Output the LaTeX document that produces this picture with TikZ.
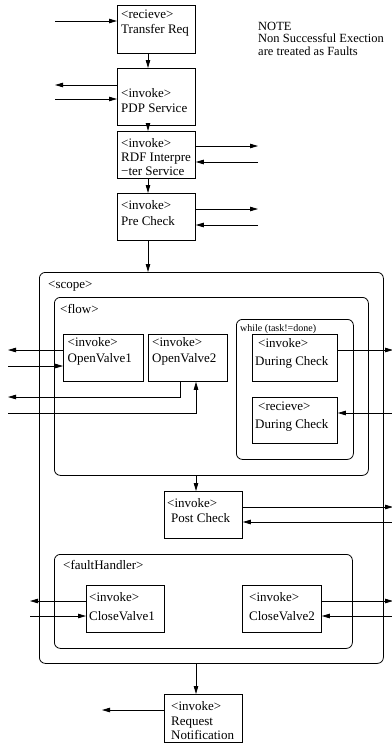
\documentclass[tikz,border=0pt]{standalone}
\usepackage{fontspec}
\setmainfont{Liberation Serif}
\usetikzlibrary{arrows.meta}
\begin{document}
\begin{tikzpicture}[x=1pt,y=-1pt,
  box/.style={draw, line width=0.8pt, anchor=north west, inner sep=0pt},
  grp/.style={draw, line width=0.8pt, anchor=north west, inner sep=0pt, rounded corners=6pt},
  txt/.style={anchor=base west, inner sep=0pt, font=\fontsize{13}{15}\selectfont},
  small/.style={anchor=base west, inner sep=0pt, font=\fontsize{10}{12}\selectfont},
  arr/.style={line width=0.8pt, -{Triangle[length=8pt,width=4.5pt]}}]
\path[use as bounding box] (0,0) rectangle (391,744);
% columns
\coordinate (colA) at (148,0);
\coordinate (colB) at (196,0);
\coordinate (colC) at (180,0);
% top boxes
\node[box, minimum width=78pt, minimum height=48pt] (tr) at (117,5) {};
\node[txt] (trA) at (121,18.5) {\textless recieve\textgreater};
\node[txt] (trB) at (121,33) {Transfer Req};
\node[box, minimum width=78pt, minimum height=57pt] (pdp) at (117,68) {};
\node[txt] (pdpA) at (121,97) {\textless invoke\textgreater};
\node[txt] (pdpB) at (121,112) {PDP Service};
\node[box, minimum width=78pt, minimum height=47pt] (rdf) at (117,131) {};
\node[txt] (rdfA) at (121,147) {\textless invoke\textgreater};
\node[txt] (rdfB) at (121,161.5) {RDF Interpre};
\node[txt] (rdfC) at (121,175) {−ter Service};
\node[box, minimum width=78pt, minimum height=47pt] (pre) at (117,193) {};
\node[txt] (preA) at (121,209) {\textless invoke\textgreater};
\node[txt] (preB) at (121,225) {Pre Check};
% note
\node[anchor=base west, inner sep=0pt, align=left, font=\fontsize{12.5}{12.3}\selectfont] (note) at (258,55) {NOTE\\Non Successful Exection\\are treated as Faults};
% groups
\node[grp, minimum width=344pt, minimum height=391pt] (scope) at (39,272) {};
\node[txt] (scopeL) at (48,288) {\textless scope\textgreater};
\node[grp, minimum width=314pt, minimum height=178pt] (flow) at (54,297) {};
\node[txt] (flowL) at (60,313) {\textless flow\textgreater};
\node[grp, minimum width=117pt, minimum height=140pt] (while) at (236,319) {};
\node[small] (whileL) at (240,331) {while (task!=done)};
\node[grp, minimum width=298pt, minimum height=94pt] (fault) at (54,554) {};
\node[txt] (faultL) at (63,569) {\textless faultHandler\textgreater};
% flow boxes
\node[box, minimum width=80pt, minimum height=47pt] (ov1) at (63,334) {};
\node[txt] (ov1A) at (67.5,346.5) {\textless invoke\textgreater};
\node[txt] (ov1B) at (67.5,362) {OpenValve1};
\node[box, minimum width=79pt, minimum height=47pt] (ov2) at (148,334) {};
\node[txt] (ov2A) at (152,346.5) {\textless invoke\textgreater};
\node[txt] (ov2B) at (152,362) {OpenValve2};
\node[box, minimum width=85pt, minimum height=47pt] (dc) at (252,334) {};
\node[txt] (dcA) at (258,347) {\textless invoke\textgreater};
\node[txt] (dcB) at (255,365) {During Check};
\node[box, minimum width=85pt, minimum height=46pt] (dr) at (252,397) {};
\node[txt] (drA) at (258,410) {\textless recieve\textgreater};
\node[txt] (drB) at (255,428) {During Check};
% post check
\node[box, minimum width=78pt, minimum height=47pt] (post) at (164,491) {};
\node[txt] (postA) at (167,507) {\textless invoke\textgreater};
\node[txt] (postB) at (171,522) {Post Check};
% fault boxes
\node[box, minimum width=78pt, minimum height=47pt] (cv1) at (86,585) {};
\node[txt] (cv1A) at (89,601) {\textless invoke\textgreater};
\node[txt] (cv1B) at (89,620) {CloseValve1};
\node[box, minimum width=79pt, minimum height=47pt] (cv2) at (242,585) {};
\node[txt] (cv2A) at (249,601) {\textless invoke\textgreater};
\node[txt] (cv2B) at (249,620) {CloseValve2};
% request
\node[box, minimum width=78pt, minimum height=48pt] (req) at (164,694) {};
\node[txt] (reqA) at (171,710) {\textless invoke\textgreater};
\node[txt] (reqB) at (171,725) {Request};
\node[txt] (reqC) at (171,739) {Notification};
% free ends
\coordinate (trIn) at (55,21);
\coordinate (pdpOut) at (55,85);
\coordinate (pdpIn) at (55,99);
\coordinate (rdfOut) at (258,146);
\coordinate (rdfIn) at (258,162);
\coordinate (preOut) at (258,209);
\coordinate (preIn) at (258,225);
\coordinate (ov1Out) at (8,350);
\coordinate (ov1In) at (8,366);
\coordinate (ov2Out) at (8,397);
\coordinate (ov2In) at (8,413);
\coordinate (dcOut) at (393,350);
\coordinate (drIn) at (393,413);
\coordinate (postOut) at (393,507);
\coordinate (postIn) at (393,522);
\coordinate (cv1Out) at (30,601);
\coordinate (cv1In) at (30,616);
\coordinate (cv2Out) at (393,601);
\coordinate (cv2In) at (393,616);
\coordinate (reqOut) at (102,710);
% vertical flow
\draw[arr] (tr.south -| colA) -- (pdp.north -| colA);
\draw[arr] (pdp.south -| colA) -- (rdf.north -| colA);
\draw[arr] (rdf.south -| colA) -- (pre.north -| colA);
\draw[arr] (pre.south -| colA) -- (scope.north -| colA);
\draw[arr] (flow.south -| colB) -- (post.north -| colB);
\draw[arr] (scope.south -| colB) -- (req.north -| colB);
% side arrows
\draw[arr] (trIn) -- (trIn -| tr.west);
\draw[arr] (pdpOut -| pdp.west) -- (pdpOut);
\draw[arr] (pdpIn) -- (pdpIn -| pdp.west);
\draw[arr] (rdfOut -| rdf.east) -- (rdfOut);
\draw[arr] (rdfIn) -- (rdfIn -| rdf.east);
\draw[arr] (preOut -| pre.east) -- (preOut);
\draw[arr] (preIn) -- (preIn -| pre.east);
\draw[arr] (ov1Out -| ov1.west) -- (ov1Out);
\draw[arr] (ov1In) -- (ov1In -| ov1.west);
\draw[arr] (ov2.south -| colC) |- (ov2Out);
\draw[arr] (ov2In) -| (ov2.south -| colB);
\draw[arr] (dcOut -| dc.east) -- (dcOut);
\draw[arr] (drIn) -- (drIn -| dr.east);
\draw[arr] (postOut -| post.east) -- (postOut);
\draw[arr] (postIn) -- (postIn -| post.east);
\draw[arr] (cv1Out -| cv1.west) -- (cv1Out);
\draw[arr] (cv1In) -- (cv1In -| cv1.west);
\draw[arr] (cv2Out -| cv2.east) -- (cv2Out);
\draw[arr] (cv2In) -- (cv2In -| cv2.east);
\draw[arr] (reqOut -| req.west) -- (reqOut);
\end{tikzpicture}
\end{document}
